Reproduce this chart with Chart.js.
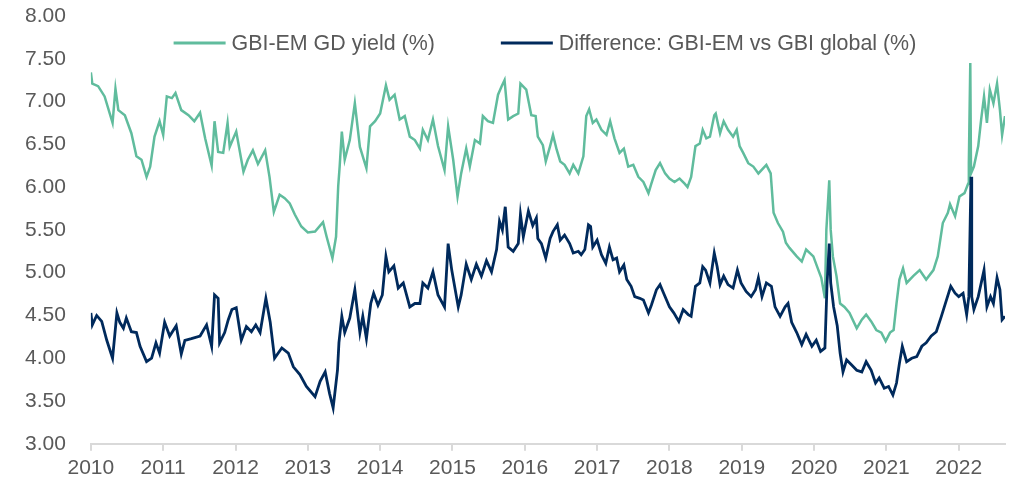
<!DOCTYPE html>
<html>
<head>
<meta charset="utf-8">
<script src="https://cdn.jsdelivr.net/npm/chart.js@4.4.1/dist/chart.umd.min.js"></script>
<style>
  html, body { margin: 0; padding: 0; background: #ffffff; }
  canvas { display: block; }
</style>
</head>
<body>
<canvas id="chart" width="1014" height="481"></canvas>
<script>
// series labels
const seriesNames = ["GBI-EM GD yield (%)", "Difference: GBI-EM vs GBI global (%)"];

// y-axis tick range
const yMin = 3, yMax = 8, yStep = 0.5;
// x-axis (years)
const xMin = 2010, xMax = 2022.64;

// GBI-EM GD yield (%) -- dates as decimal years
const yieldDates = [
  2010.00, 2010.02, 2010.10, 2010.19, 2010.30, 2010.34, 2010.38, 2010.47, 2010.56, 2010.63,
  2010.70, 2010.77, 2010.82, 2010.88, 2010.95, 2011.00, 2011.05, 2011.12, 2011.17, 2011.25,
  2011.35, 2011.43, 2011.51, 2011.58, 2011.67, 2011.71, 2011.76, 2011.83, 2011.89, 2011.92,
  2011.97, 2012.01, 2012.11, 2012.17, 2012.24, 2012.31, 2012.41, 2012.47, 2012.53, 2012.61,
  2012.68, 2012.75, 2012.82, 2012.91, 2013.00, 2013.10, 2013.21, 2013.26, 2013.34, 2013.39,
  2013.42, 2013.44, 2013.47, 2013.51, 2013.58, 2013.65, 2013.72, 2013.81, 2013.86, 2013.93,
  2014.00, 2014.08, 2014.13, 2014.20, 2014.27, 2014.34, 2014.41, 2014.48, 2014.55, 2014.59,
  2014.66, 2014.73, 2014.80, 2014.89, 2014.94, 2015.01, 2015.07, 2015.12, 2015.19, 2015.24,
  2015.31, 2015.38, 2015.42, 2015.49, 2015.56, 2015.63, 2015.68, 2015.72, 2015.77, 2015.84,
  2015.91, 2015.94, 2016.02, 2016.09, 2016.15, 2016.18, 2016.25, 2016.29, 2016.35, 2016.39,
  2016.44, 2016.49, 2016.55, 2016.62, 2016.67, 2016.74, 2016.81, 2016.85, 2016.89, 2016.94,
  2016.99, 2017.06, 2017.13, 2017.18, 2017.24, 2017.31, 2017.37, 2017.43, 2017.50, 2017.57,
  2017.64, 2017.71, 2017.75, 2017.81, 2017.87, 2017.94, 2018.00, 2018.07, 2018.14, 2018.21,
  2018.25, 2018.30, 2018.36, 2018.42, 2018.46, 2018.51, 2018.56, 2018.62, 2018.64, 2018.70,
  2018.75, 2018.81, 2018.88, 2018.93, 2018.97, 2019.02, 2019.09, 2019.16, 2019.23, 2019.34,
  2019.40, 2019.44, 2019.50, 2019.57, 2019.61, 2019.66, 2019.76, 2019.83, 2019.89, 2019.99,
  2020.06, 2020.10, 2020.15, 2020.17, 2020.21, 2020.23, 2020.26, 2020.31, 2020.36, 2020.42,
  2020.49, 2020.59, 2020.66, 2020.72, 2020.79, 2020.86, 2020.93, 2020.99, 2021.05, 2021.10,
  2021.14, 2021.18, 2021.23, 2021.28, 2021.37, 2021.46, 2021.55, 2021.65, 2021.71, 2021.78,
  2021.85, 2021.88, 2021.95, 2022.01, 2022.08, 2022.13, 2022.14, 2022.16, 2022.17, 2022.21,
  2022.27, 2022.31, 2022.35, 2022.39, 2022.43, 2022.48, 2022.53, 2022.57, 2022.60, 2022.64
];
const yieldValues = [
  7.34, 7.21, 7.18, 7.06, 6.75, 7.15, 6.90, 6.84, 6.63, 6.36,
  6.32, 6.12, 6.24, 6.59, 6.77, 6.61, 7.06, 7.04, 7.10, 6.90,
  6.84, 6.77, 6.87, 6.57, 6.25, 6.77, 6.41, 6.40, 6.75, 6.47,
  6.57, 6.65, 6.18, 6.32, 6.43, 6.27, 6.43, 6.12, 5.71, 5.91,
  5.87, 5.81, 5.68, 5.54, 5.47, 5.48, 5.59, 5.42, 5.17, 5.42,
  6.01, 6.24, 6.65, 6.32, 6.55, 6.98, 6.47, 6.22, 6.71, 6.77,
  6.86, 7.19, 7.02, 7.08, 6.79, 6.83, 6.59, 6.55, 6.45, 6.67,
  6.55, 6.79, 6.48, 6.20, 6.71, 6.32, 5.89, 6.16, 6.45, 6.24,
  6.55, 6.51, 6.83, 6.77, 6.75, 7.08, 7.18, 7.25, 6.79, 6.83,
  6.86, 7.21, 7.14, 6.84, 6.83, 6.59, 6.49, 6.30, 6.48, 6.61,
  6.44, 6.30, 6.26, 6.16, 6.26, 6.16, 6.36, 6.83, 6.91, 6.75,
  6.79, 6.67, 6.61, 6.77, 6.57, 6.40, 6.45, 6.24, 6.26, 6.12,
  6.06, 5.93, 6.04, 6.20, 6.28, 6.16, 6.10, 6.06, 6.10, 6.04,
  6.00, 6.12, 6.48, 6.51, 6.67, 6.57, 6.59, 6.84, 6.86, 6.63,
  6.77, 6.67, 6.59, 6.67, 6.48, 6.40, 6.28, 6.24, 6.16, 6.26,
  6.16, 5.70, 5.58, 5.48, 5.35, 5.29, 5.19, 5.13, 5.27, 5.19,
  5.03, 4.94, 4.70, 5.50, 6.08, 5.50, 5.19, 4.96, 4.64, 4.60,
  4.53, 4.35, 4.45, 4.51, 4.43, 4.33, 4.30, 4.20, 4.30, 4.33,
  4.64, 4.92, 5.05, 4.88, 4.96, 5.03, 4.92, 5.03, 5.19, 5.58,
  5.70, 5.80, 5.66, 5.89, 5.93, 6.04, 6.28, 7.45, 6.16, 6.24,
  6.48, 6.79, 7.06, 6.75, 7.14, 6.98, 7.21, 6.90, 6.61, 6.83
];

// Difference: GBI-EM vs GBI global (%)
const diffDates = [
  2010.00, 2010.02, 2010.08, 2010.15, 2010.22, 2010.30, 2010.36, 2010.40, 2010.45, 2010.49,
  2010.56, 2010.63, 2010.68, 2010.77, 2010.84, 2010.90, 2010.95, 2011.02, 2011.09, 2011.18,
  2011.25, 2011.30, 2011.39, 2011.51, 2011.60, 2011.67, 2011.71, 2011.76, 2011.78, 2011.85,
  2011.90, 2011.95, 2012.01, 2012.08, 2012.15, 2012.22, 2012.28, 2012.34, 2012.42, 2012.48,
  2012.54, 2012.64, 2012.73, 2012.80, 2012.89, 2012.98, 2013.10, 2013.17, 2013.24, 2013.30,
  2013.35, 2013.41, 2013.43, 2013.47, 2013.51, 2013.58, 2013.65, 2013.72, 2013.76, 2013.81,
  2013.87, 2013.91, 2013.97, 2014.03, 2014.08, 2014.12, 2014.19, 2014.25, 2014.32, 2014.41,
  2014.48, 2014.55, 2014.59, 2014.66, 2014.73, 2014.80, 2014.89, 2014.94, 2014.99, 2015.08,
  2015.12, 2015.19, 2015.26, 2015.33, 2015.40, 2015.47, 2015.54, 2015.61, 2015.65, 2015.69,
  2015.73, 2015.77, 2015.84, 2015.91, 2015.94, 2015.98, 2016.05, 2016.11, 2016.16, 2016.18,
  2016.23, 2016.29, 2016.35, 2016.39, 2016.45, 2016.49, 2016.55, 2016.62, 2016.67, 2016.74,
  2016.78, 2016.83, 2016.88, 2016.91, 2016.94, 2017.00, 2017.06, 2017.12, 2017.17, 2017.22,
  2017.27, 2017.31, 2017.37, 2017.41, 2017.47, 2017.52, 2017.59, 2017.64, 2017.71, 2017.75,
  2017.82, 2017.87, 2017.92, 2018.00, 2018.06, 2018.13, 2018.19, 2018.26, 2018.30, 2018.36,
  2018.42, 2018.46, 2018.50, 2018.56, 2018.62, 2018.66, 2018.70, 2018.75, 2018.81, 2018.88,
  2018.94, 2018.99, 2019.06, 2019.13, 2019.19, 2019.23, 2019.28, 2019.34, 2019.41, 2019.46,
  2019.53, 2019.60, 2019.64, 2019.69, 2019.76, 2019.83, 2019.89, 2019.97, 2020.03, 2020.09,
  2020.15, 2020.18, 2020.21, 2020.23, 2020.27, 2020.32, 2020.36, 2020.40, 2020.45, 2020.52,
  2020.59, 2020.66, 2020.72, 2020.79, 2020.85, 2020.90, 2020.97, 2021.03, 2021.09, 2021.14,
  2021.18, 2021.22, 2021.28, 2021.35, 2021.42, 2021.49, 2021.55, 2021.62, 2021.69, 2021.76,
  2021.83, 2021.89, 2021.95, 2022.00, 2022.06, 2022.11, 2022.14, 2022.17, 2022.18, 2022.21,
  2022.27, 2022.35, 2022.39, 2022.44, 2022.48, 2022.53, 2022.57, 2022.60, 2022.64
];
const diffValues = [
  4.53, 4.39, 4.50, 4.43, 4.21, 4.00, 4.53, 4.42, 4.35, 4.47,
  4.31, 4.30, 4.14, 3.96, 4.00, 4.18, 4.06, 4.42, 4.26, 4.38,
  4.05, 4.21, 4.23, 4.26, 4.39, 4.14, 4.74, 4.70, 4.18, 4.30,
  4.45, 4.57, 4.59, 4.21, 4.37, 4.31, 4.39, 4.30, 4.70, 4.42,
  4.00, 4.12, 4.06, 3.90, 3.81, 3.67, 3.55, 3.73, 3.84, 3.59,
  3.42, 3.86, 4.18, 4.49, 4.30, 4.47, 4.80, 4.30, 4.49, 4.23,
  4.64, 4.76, 4.62, 4.74, 5.19, 5.01, 5.08, 4.82, 4.88, 4.60,
  4.64, 4.64, 4.88, 4.82, 5.01, 4.74, 4.60, 5.34, 5.03, 4.60,
  4.74, 5.10, 4.92, 5.10, 4.96, 5.14, 5.01, 5.27, 5.60, 5.50,
  5.77, 5.30, 5.25, 5.34, 5.68, 5.42, 5.72, 5.55, 5.64, 5.40,
  5.34, 5.17, 5.40, 5.48, 5.56, 5.38, 5.44, 5.34, 5.23, 5.25,
  5.21, 5.27, 5.56, 5.54, 5.30, 5.38, 5.21, 5.11, 5.30, 5.15,
  5.17, 5.01, 5.09, 4.92, 4.84, 4.72, 4.70, 4.68, 4.53, 4.62,
  4.80, 4.86, 4.76, 4.60, 4.53, 4.43, 4.57, 4.51, 4.49, 4.84,
  4.88, 5.07, 5.03, 4.88, 5.23, 5.07, 4.86, 4.96, 4.86, 4.82,
  5.03, 4.88, 4.78, 4.72, 4.80, 4.94, 4.72, 4.88, 4.84, 4.60,
  4.49, 4.60, 4.64, 4.42, 4.30, 4.16, 4.28, 4.14, 4.21, 4.08,
  4.12, 4.88, 5.34, 4.88, 4.60, 4.38, 4.06, 3.84, 3.98, 3.92,
  3.86, 3.84, 3.96, 3.86, 3.71, 3.77, 3.65, 3.67, 3.57, 3.71,
  3.94, 4.14, 3.96, 4.00, 4.02, 4.14, 4.18, 4.26, 4.31, 4.49,
  4.68, 4.84, 4.76, 4.72, 4.76, 4.51, 4.72, 6.12, 4.72, 4.57,
  4.72, 5.03, 4.60, 4.72, 4.64, 4.94, 4.80, 4.45, 4.49
];

const toPoints = (xs, ys) => xs.map((x, i) => ({ x: x, y: ys[i] }));

const textColor = "#595959";
const fontFamily = "'Liberation Sans', Arial, sans-serif";

// legend drawn inside the plot area, like the original
const insideLegend = {
  id: "insideLegend",
  afterDraw(chart) {
    const ctx = chart.ctx;
    const area = chart.chartArea;
    const lineLen = 52, gap = 6, spacing = 66, y = 43;
    ctx.save();
    ctx.font = "21.4px " + fontFamily;
    ctx.textBaseline = "middle";
    const items = chart.data.datasets.map((ds) => ({
      label: ds.label,
      color: ds.borderColor,
      width: lineLen + gap + ctx.measureText(ds.label).width,
    }));
    let total = items.reduce((s, it) => s + it.width, 0) + spacing * (items.length - 1);
    let x = (area.left + area.right) / 2 - 3 - total / 2;
    items.forEach((it) => {
      ctx.strokeStyle = it.color;
      ctx.lineWidth = 3;
      ctx.beginPath();
      ctx.moveTo(x, y);
      ctx.lineTo(x + lineLen, y);
      ctx.stroke();
      ctx.fillStyle = textColor;
      ctx.fillText(it.label, x + lineLen + gap, y + 1);
      x += it.width + spacing;
    });
    ctx.restore();
  },
};

new Chart(document.getElementById("chart"), {
  type: "line",
  data: {
    datasets: [
      {
        label: seriesNames[0],
        data: toPoints(yieldDates, yieldValues),
        borderColor: "#60BC9D",
        backgroundColor: "#60BC9D",
        borderWidth: 2.5,
        pointRadius: 0,
        tension: 0,
        order: 1,
      },
      {
        label: seriesNames[1],
        data: toPoints(diffDates, diffValues),
        borderColor: "#002A5C",
        backgroundColor: "#002A5C",
        borderWidth: 2.8,
        pointRadius: 0,
        tension: 0,
        order: 0,
      },
    ],
  },
  options: {
    responsive: false,
    animation: false,
    layout: { padding: { left: 0, right: 9, top: 16, bottom: -5 } },
    plugins: {
      legend: { display: false },
      tooltip: { enabled: false },
    },
    scales: {
      x: {
        type: "linear",
        min: xMin,
        max: xMax,
        grid: {
          drawOnChartArea: false,
          drawTicks: true,
          tickLength: 7,
          color: "#d9d9d9",
          lineWidth: 2,
        },
        border: { display: true, color: "#d9d9d9", width: 2 },
        ticks: {
          stepSize: 1,
          includeBounds: false,
          autoSkip: false,
          maxRotation: 0,
          padding: 5,
          color: textColor,
          font: { family: fontFamily, size: 21 },
          callback: (v) => String(v),
        },
      },
      y: {
        min: yMin,
        max: yMax,
        grid: { display: false, drawTicks: false },
        border: { display: false },
        afterFit: (scale) => {
          // labels may stick out above/below; do not shrink the plot for them
          scale.paddingTop = 0;
          scale.paddingBottom = 0;
        },
        ticks: {
          stepSize: yStep,
          padding: 25,
          color: textColor,
          font: { family: fontFamily, size: 21 },
          callback: (v) => Number(v).toFixed(2),
        },
      },
    },
  },
  plugins: [insideLegend],
});
</script>
</body>
</html>
